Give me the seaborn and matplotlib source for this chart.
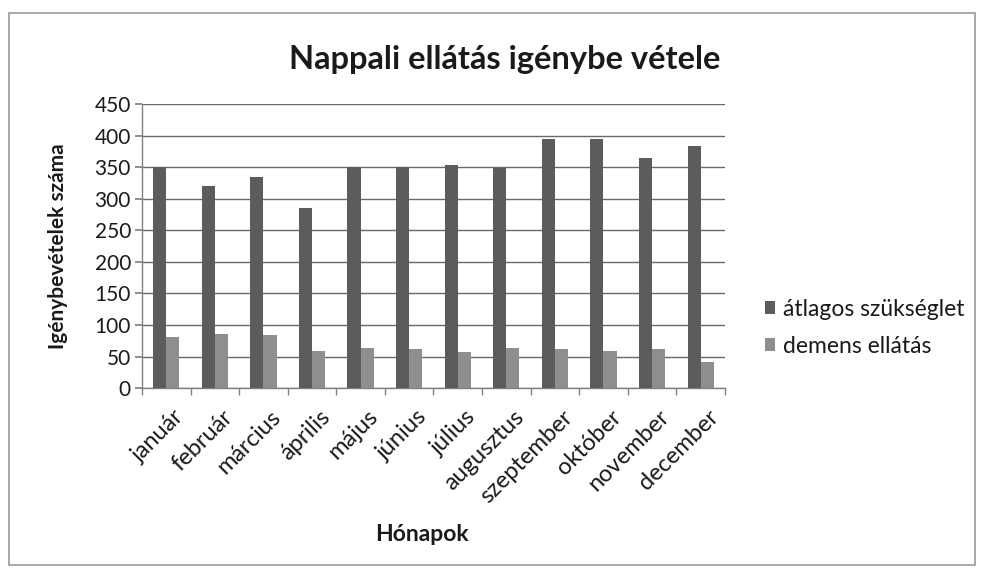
import matplotlib
matplotlib.use("Agg")
import matplotlib.pyplot as plt
import matplotlib.transforms as mtransforms
import seaborn as sns
import pandas as pd
from matplotlib.patches import Rectangle

months = ["január", "február", "március", "április", "május", "június",
          "július", "augusztus", "szeptember", "október", "november", "december"]
atlagos = [350, 320, 335, 286, 350, 350, 353, 349, 394, 395, 364, 384]
demens = [81, 85, 84, 59, 63, 62, 57, 63, 62, 59, 62, 42]
series_names = ["átlagos szükséglet", "demens ellátás"]

df = pd.DataFrame({
    "Hónapok": months * 2,
    "value": atlagos + demens,
    "series": [series_names[0]] * len(months) + [series_names[1]] * len(months),
})

sns.set_theme(style="white")
plt.rcParams['font.family'] = ['Lato', 'DejaVu Sans']

fig = plt.figure(figsize=(9.82, 5.69), dpi=100)
ax = fig.add_axes([0.1446, 0.318, 0.5936, 0.499])

palette = {series_names[0]: "#5c5c5c", series_names[1]: "#8e8e8e"}
sns.barplot(data=df, x="Hónapok", y="value", hue="series", palette=palette,
            width=0.54, saturation=1, ax=ax, zorder=3, edgecolor="none")

ax.set_ylim(0, 450)
ax.set_xlim(-0.5, len(months) - 0.5)
ax.set_yticks(range(0, 451, 50))
ax.yaxis.grid(True, color="#6a6a6a", linewidth=1.0, zorder=0)
ax.set_axisbelow(True)
ax.tick_params(axis="y", labelsize=15, length=5, color="#808080", direction="out", left=True, pad=3,
               labelcolor="#1a1a1a")
ax.tick_params(axis="x", which="major", length=0, labelsize=17, pad=13, labelcolor="#1a1a1a")
ax.set_xticks(range(len(months)))
ax.set_xticklabels(months, rotation=45, ha="right", rotation_mode="anchor")
shift = mtransforms.ScaledTranslation(5 / 72, 0, fig.dpi_scale_trans)
for lab in ax.get_xticklabels():
    lab.set_transform(lab.get_transform() + shift)
ax.set_xticks([i - 0.5 for i in range(len(months) + 1)], minor=True)
ax.tick_params(axis="x", which="minor", length=5, color="#808080", direction="out", bottom=True)
for s in ["top", "right"]:
    ax.spines[s].set_visible(False)
for s in ["left", "bottom"]:
    ax.spines[s].set_color("#808080")
    ax.spines[s].set_linewidth(1.0)

ax.set_xlabel("Hónapok", fontsize=16.5, fontweight="bold", color="#1a1a1a")
ax.xaxis.set_label_coords(0.48, -0.48)
ax.set_ylabel("Igénybevételek száma", fontsize=15, fontweight="bold", color="#1a1a1a")
ax.yaxis.set_label_coords(-0.127, 0.5)

fig.text(0.514, 0.895, "Nappali ellátás igénybe vétele", ha="center", va="center",
         fontsize=23.5, fontweight="bold", color="#1a1a1a")

leg = ax.legend(loc="center left", bbox_to_anchor=(1.053, 0.213), frameon=False,
                fontsize=16.5, handlelength=0.45, handleheight=0.45, handletextpad=0.35,
                labelspacing=0.7, borderaxespad=0)
for t in leg.get_texts():
    t.set_color("#1a1a1a")

fig.patches.append(Rectangle((0.009, 0.007), 0.984, 0.97, transform=fig.transFigure,
                             fill=False, edgecolor="#9a9a9a", linewidth=1.2))

fig.savefig("out.png", dpi=100, facecolor="white")
